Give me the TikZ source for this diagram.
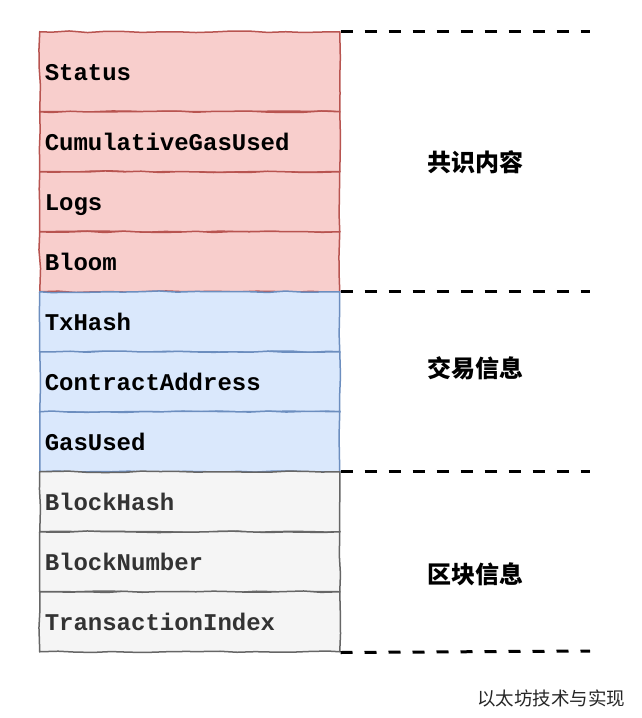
\documentclass[tikz,border=0pt]{standalone}
\usepackage{fontspec}
\setmonofont{Liberation Mono}
\newfontfamily\cjk{Noto Sans CJK SC}
\usetikzlibrary{decorations.pathmorphing}
\definecolor{redfill}{HTML}{F8CECC}
\definecolor{redline}{HTML}{B85450}
\definecolor{bluefill}{HTML}{DAE8FC}
\definecolor{blueline}{HTML}{6C8EBF}
\definecolor{grayfill}{HTML}{F5F5F5}
\definecolor{grayline}{HTML}{666666}
\definecolor{graytext}{HTML}{333333}
\tikzset{
  field/.style={rectangle, minimum width=300pt, text width=290pt, align=left,
    inner xsep=5pt, inner ysep=0pt, anchor=north west, text height=18pt, text depth=0pt,
    font=\fontsize{24}{26}\selectfont\ttfamily\bfseries, line width=1.5pt,
    decorate, decoration={random steps, segment length=18pt, amplitude=0.8pt}},
  redrow/.style={field, fill=redfill, draw=redline},
  bluerow/.style={field, fill=bluefill, draw=blueline},
  grayrow/.style={field, fill=grayfill, draw=grayline, text=graytext},
  sep/.style={line width=3pt, dash pattern=on 12pt off 12pt},
  grouplabel/.style={font=\fontsize{24}{26}\selectfont\cjk\bfseries}
}
\begin{document}
\begin{tikzpicture}[x=1pt,y=-1pt]
\pgfmathsetseed{7}
\useasboundingbox (0,0) rectangle (642,718);
\node[redrow, minimum height=80pt] (status) at (39,31) {Status};
\node[redrow, minimum height=60pt] (cgu) at (39,111) {CumulativeGasUsed};
\node[redrow, minimum height=60pt] (logs) at (39,171) {Logs};
\node[redrow, minimum height=60pt] (bloom) at (39,231) {Bloom};
\node[bluerow, minimum height=60pt] (txhash) at (39,291) {TxHash};
\node[bluerow, minimum height=60pt] (ca) at (39,351) {ContractAddress};
\node[bluerow, minimum height=60pt] (gasused) at (39,411) {GasUsed};
\node[grayrow, minimum height=60pt] (bhash) at (39,471) {BlockHash};
\node[grayrow, minimum height=60pt] (bnum) at (39,531) {BlockNumber};
\node[grayrow, minimum height=60pt] (tidx) at (39,591) {TransactionIndex};
\coordinate (e1) at (590,31);
\coordinate (e2) at (590,291);
\coordinate (e3) at (590,471);
\coordinate (e4) at (590,651);
\draw[sep] (status.north east) -- (e1);
\draw[sep] (txhash.north east) -- (e2);
\draw[sep] (bhash.north east) -- (e3);
\draw[sep] (tidx.south east) -- (e4);
\node[grouplabel] (g1) at (475,162) {共识内容};
\node[grouplabel] (g2) at (475,368) {交易信息};
\node[grouplabel] (g3) at (475,574) {区块信息};
\node[font=\fontsize{18.5}{20}\selectfont\cjk, text=black!85] (wm) at (551,698) {以太坊技术与实现};
\end{tikzpicture}
\end{document}
